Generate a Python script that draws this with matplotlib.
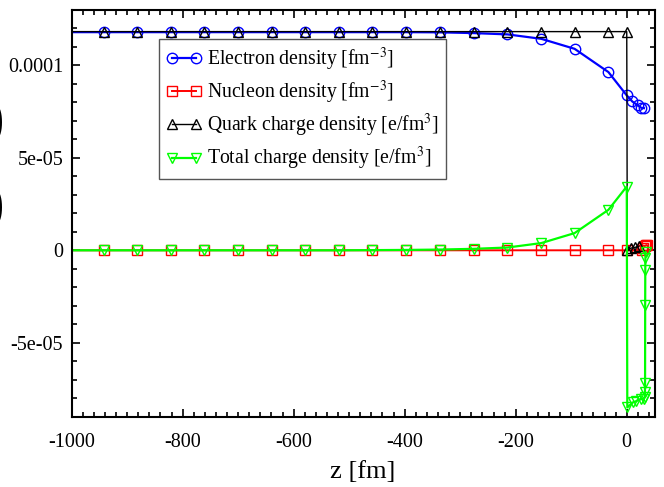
import matplotlib
matplotlib.use("Agg")
import matplotlib.pyplot as plt
from matplotlib.ticker import MultipleLocator

plt.rcParams["font.family"] = ["Liberation Serif", "DejaVu Serif"]
plt.rcParams["mathtext.fontset"] = "stix"
plt.rcParams["axes.unicode_minus"] = False

# outer region, shared by all four profiles (first point only carries the line)
z_far = [-1000, -942, -882, -821, -761, -700, -639, -579, -518, -458,
         -397, -336, -276, -215, -154, -94, -33, 0]
electron_far = [1.180e-4, 1.180e-4, 1.180e-4, 1.180e-4, 1.180e-4, 1.180e-4,
                1.180e-4, 1.180e-4, 1.180e-4, 1.180e-4, 1.180e-4, 1.179e-4,
                1.175e-4, 1.168e-4, 1.144e-4, 1.090e-4, 0.964e-4, 0.838e-4]
nucleon_far = [0, 0, 0, 0, 0, 0, 0, 0, 0, 0, 0, 0, 0, 0, 0, 0, 0, 0]
quark_far = [1.183e-4, 1.183e-4, 1.183e-4, 1.183e-4, 1.183e-4, 1.183e-4,
             1.183e-4, 1.183e-4, 1.183e-4, 1.183e-4, 1.183e-4, 1.183e-4,
             1.183e-4, 1.183e-4, 1.183e-4, 1.183e-4, 1.183e-4, 1.183e-4]
total_far = [0.0, 0.0, 0.0, 0.0, 0.0, 0.0, 0.0, 0.0, 0.0, 0.01e-5,
             0.02e-5, 0.04e-5, 0.08e-5, 0.15e-5, 0.39e-5, 0.93e-5, 2.19e-5, 3.45e-5]

# inner region, z > 0
z_electron_in = [10, 20, 26, 31]
electron_in = [8.05e-5, 7.84e-5, 7.71e-5, 7.69e-5]
z_nucleon_in = [27, 30, 32, 34, 36]
nucleon_in = [0.2e-6, 1.2e-6, 2.2e-6, 2.6e-6, 2.8e-6]
z_quark_in = [1, 8, 15, 22]
quark_in = [0.4e-6, 1.2e-6, 1.6e-6, 2.2e-6]
z_total_in = [1, 11, 17, 25, 31, 32.6, 32.8, 33.0, 33.2, 33.4, 33.6, 33.8]
total_in = [-8.50e-5, -8.23e-5, -8.16e-5, -8.05e-5, -8.02e-5, -7.93e-5,
            -7.66e-5, -7.20e-5, -2.97e-5, -1.08e-5, -0.43e-5, -0.09e-5]

x_ticks = [-1000, -800, -600, -400, -200, 0]
x_labels = ["-1000", "-800", "-600", "-400", "-200", "0"]
y_ticks = [-5e-5, 0, 5e-5, 1e-4]
y_labels = ["-5e-05", "0", "5e-05", "0.0001"]

fig = plt.figure(figsize=(6.64, 4.87), dpi=100)
ax = fig.add_axes([0.1078, 0.1444, 0.8779, 0.8351])

series = [
    ("Electron density [fm$^{-3}$]", z_far + z_electron_in, electron_far + electron_in, "#0000ff", "o", 1.6),
    ("Nucleon density [fm$^{-3}$]", z_far + z_nucleon_in, nucleon_far + nucleon_in, "#ff0000", "s", 1.4),
    ("Quark charge density [e/fm$^{3}$]", z_far + z_quark_in, quark_far + quark_in, "#000000", "^", 1.0),
    ("Total charge density [e/fm$^{3}$]", z_far + z_total_in, total_far + total_in, "#00ff00", "v", 1.6),
]
for label, z, vals, color, marker, lw in series:
    ax.plot(z, vals, color=color, lw=lw, marker=marker, ms=7.5,
            mfc="none", mec=color, mew=1.0,
            markevery=list(range(1, len(z))), label=label)

ax.set_xlim(-1000, 50)
ax.set_ylim(-9e-5, 1.3e-4)
ax.set_xticks(x_ticks)
ax.set_xticklabels(x_labels)
ax.set_yticks(y_ticks)
ax.set_yticklabels(y_labels)
ax.xaxis.set_minor_locator(MultipleLocator(20))
ax.yaxis.set_minor_locator(MultipleLocator(1e-5))
ax.tick_params(which="both", direction="in", top=True, right=True,
               labelsize=14.5, width=1.2)
ax.tick_params(which="major", length=6, pad=6)
ax.tick_params(which="minor", length=3.5)
ax.tick_params(axis="x", which="major", pad=12)
for s in ax.spines.values():
    s.set_linewidth(1.5)

ax.set_xlabel("z [fm]", fontsize=19, labelpad=6)

leg = ax.legend(loc="upper left", bbox_to_anchor=(0.150, 0.928),
                borderaxespad=0, fontsize=14.2, numpoints=2, handlelength=1.8,
                handletextpad=0.3, labelspacing=0.3, borderpad=0.35,
                fancybox=False, framealpha=1, edgecolor="#555555")
leg.get_frame().set_linewidth(1.0)

# right edges of the neighbouring panel's bracketed label
fig.text(4 / 664, 1 - 122 / 487, ")", fontsize=40, ha="right", va="center")
fig.text(4 / 664, 1 - 207 / 487, ")", fontsize=40, ha="right", va="center")

fig.savefig("out.png", dpi=100)
